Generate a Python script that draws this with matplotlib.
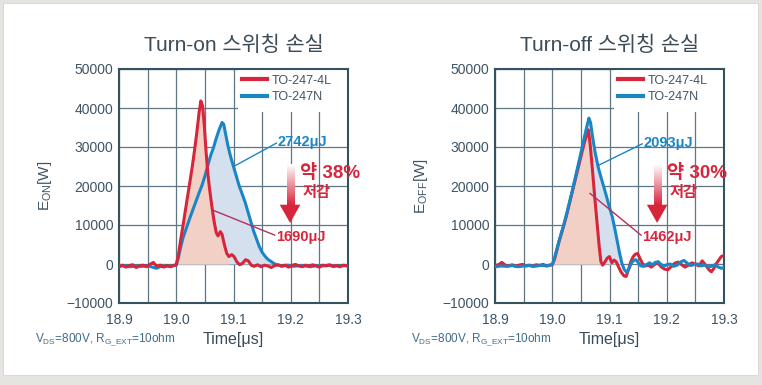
import numpy as np
import matplotlib
import matplotlib.pyplot as plt
from matplotlib.colors import LinearSegmentedColormap
from matplotlib.patches import Rectangle, Polygon

matplotlib.use("Agg")
plt.rcParams["font.family"] = ["Liberation Sans", "Noto Sans CJK KR"]

# ---- data (time in us, power in W) ----
on_4l_t = [18.900, 18.906, 18.912, 18.918, 18.924, 18.930, 18.936, 18.942, 18.948, 18.954,
           18.960, 18.966, 18.972, 18.978, 18.984, 18.990, 18.996, 19.000, 19.004, 19.008,
           19.012, 19.016, 19.020, 19.024, 19.028, 19.032, 19.036, 19.040, 19.043, 19.046,
           19.049, 19.052, 19.055, 19.058, 19.062, 19.066, 19.070, 19.073, 19.077, 19.080,
           19.084, 19.088, 19.092, 19.097, 19.101, 19.106, 19.111, 19.116, 19.121, 19.126,
           19.131, 19.136, 19.142, 19.148, 19.154, 19.160, 19.166, 19.172, 19.178, 19.184,
           19.190, 19.196, 19.202, 19.208, 19.214, 19.220, 19.226, 19.232, 19.238, 19.244,
           19.250, 19.256, 19.262, 19.268, 19.274, 19.280, 19.286, 19.292, 19.300]
on_4l_v = [-700, -300, -800, -400, -200, -900, -500, -300, -700, -100,
           400, -600, -300, -800, -400, -700, -300, -200, 2500, 6500,
           10000, 13800, 17500, 21200, 25000, 29200, 33800, 39000, 41800, 40500,
           35500, 29000, 23500, 19500, 15000, 11000, 8000, 7200, 8300, 7600,
           5000, 2800, 1900, 2400, 1900, 500, -200, 200, 1100, 800,
           -300, -600, -200, -700, -300, -500, -900, -400, -200, -600,
           -300, -800, -400, -100, -500, -700, -300, -600, -200, -500,
           -800, -300, -500, -200, -600, -400, -700, -300, -500]

on_n_t = [18.900, 18.910, 18.920, 18.930, 18.940, 18.950, 18.958, 18.965, 18.972, 18.980,
          18.990, 19.000, 19.004, 19.008, 19.012, 19.016, 19.020, 19.025, 19.030, 19.035,
          19.040, 19.045, 19.050, 19.055, 19.060, 19.065, 19.070, 19.075, 19.080, 19.083,
          19.086, 19.090, 19.095, 19.100, 19.105, 19.110, 19.115, 19.120, 19.125, 19.130,
          19.135, 19.140, 19.145, 19.150, 19.155, 19.160, 19.165, 19.170, 19.175, 19.185,
          19.195, 19.205, 19.215, 19.225, 19.235, 19.245, 19.255, 19.265, 19.275, 19.285,
          19.300]
on_n_v = [-600, -400, -700, -500, -600, -400, -800, -1100, -700, -500,
          -600, -300, 1800, 4500, 6800, 8500, 10200, 12300, 14300, 16300,
          18300, 20200, 22500, 25200, 27800, 29800, 32300, 34500, 36300, 35800,
          33500, 30500, 27500, 25000, 22500, 20000, 18000, 16000, 13500, 11000,
          8500, 6500, 4500, 3000, 2000, 1200, 700, 200, -200, -500,
          -300, -600, -400, -500, -700, -400, -500, -300, -600, -400,
          -500]

off_4l_t = [18.900, 18.906, 18.912, 18.918, 18.924, 18.930, 18.936, 18.942, 18.948, 18.954,
            18.960, 18.966, 18.972, 18.978, 18.984, 18.990, 18.996, 19.000, 19.004, 19.008,
            19.012, 19.016, 19.020, 19.025, 19.030, 19.035, 19.040, 19.045, 19.050, 19.055,
            19.060, 19.063, 19.066, 19.070, 19.074, 19.078, 19.082, 19.085, 19.088, 19.092,
            19.096, 19.100, 19.104, 19.108, 19.112, 19.116, 19.120, 19.125, 19.129, 19.133,
            19.137, 19.141, 19.145, 19.149, 19.153, 19.158, 19.163, 19.168, 19.173, 19.178,
            19.184, 19.190, 19.196, 19.202, 19.208, 19.214, 19.220, 19.226, 19.232, 19.238,
            19.244, 19.250, 19.256, 19.262, 19.268, 19.274, 19.278, 19.282, 19.286, 19.290,
            19.295, 19.300]
off_4l_v = [-400, -200, 400, -300, -500, -200, -600, -300, -100, -500,
            -300, -600, -200, -400, -100, -500, -300, -200, 1200, 3500,
            5800, 7800, 9800, 12500, 15500, 18500, 21500, 24500, 27500, 30500,
            33200, 34400, 31000, 24500, 17500, 11000, 4500, 600, -300, 500,
            1500, 1900, 300, 1000, 500, -800, -2000, -3000, -3200, -1500,
            500, 1800, 2500, 2700, 1500, 0, -500, -300, -800, -200,
            400, -700, -1300, -1500, -600, 200, 500, -200, -800, -300,
            300, 0, -500, 800, -300, -1500, -2000, -1200, 0, 800,
            1900, 2200]

off_n_t = [18.900, 18.910, 18.920, 18.930, 18.940, 18.950, 18.960, 18.970, 18.980, 18.990,
           19.000, 19.004, 19.008, 19.012, 19.016, 19.020, 19.025, 19.030, 19.035, 19.040,
           19.045, 19.050, 19.055, 19.060, 19.064, 19.067, 19.070, 19.075, 19.080, 19.085,
           19.090, 19.095, 19.100, 19.105, 19.110, 19.114, 19.118, 19.122, 19.126, 19.130,
           19.134, 19.138, 19.142, 19.146, 19.150, 19.155, 19.160, 19.165, 19.170, 19.175,
           19.180, 19.185, 19.190, 19.195, 19.200, 19.206, 19.212, 19.218, 19.224, 19.230,
           19.236, 19.242, 19.248, 19.254, 19.260, 19.266, 19.272, 19.278, 19.284, 19.290,
           19.296, 19.300]
off_n_v = [-700, -500, -600, -400, -700, -500, -400, -600, -300, -500,
           -100, 1500, 3800, 6000, 8000, 10000, 12800, 15800, 18800, 22000,
           25200, 28500, 31800, 35000, 37400, 36200, 33000, 28500, 25000, 22300,
           19800, 17200, 14500, 12000, 8500, 5500, 2500, 0, -1500, -2100,
           -1200, 200, 900, 1100, 400, -500, -600, -100, 300, -200,
           400, 600, -100, -500, -200, 0, -600, -300, 500, 900,
           200, -400, -100, 0, -500, -300, -700, -600, -200, -800,
           -1100, -900]

series_labels = ["TO-247-4L", "TO-247N"]
panel_titles = ["Turn-on 스위칭 손실", "Turn-off 스위칭 손실"]
energy_4l = ["1690μJ", "1462μJ"]
energy_n = ["2742μJ", "2093μJ"]
reduction = ["약 38%", "약 30%"]
x_ticks = [18.9, 19.0, 19.1, 19.2, 19.3]
x_minor = [18.95, 19.05, 19.15, 19.25]
y_ticks = [-10000, 0, 10000, 20000, 30000, 40000, 50000]

RED = "#d7263c"
BLUE = "#1b86c6"
RED_FILL = "#f3d0c6"
BLUE_FILL = "#d5e0ee"
FRAME = "#36525f"
GRID = "#5f7684"
TXT = "#3f5464"
LEADER_RED = "#b2305e"

fig = plt.figure(figsize=(7.62, 3.85), dpi=100, facecolor="#e6e4e1")
fig.patches.append(Rectangle((3 / 762, 10 / 385), 755 / 762, 372 / 385,
                             transform=fig.transFigure, facecolor="white",
                             edgecolor="#d8d6d3", linewidth=0.6, zorder=-10))

axes = [fig.add_axes([119 / 762, 82 / 385, 229 / 762, 234 / 385]),
        fig.add_axes([495 / 762, 82 / 385, 229 / 762, 234 / 385])]
for ax in axes:
    ax.set_facecolor("none")

panels = [
    dict(t4=on_4l_t, v4=on_4l_v, tn=on_n_t, vn=on_n_v, red_end=19.095, blue_end=19.175,
         red_top=True, ylab=r"$\mathregular{E_{ON}}$[W]",
         lead_n=((19.099, 24900), (19.175, 31000)), lead_4=((19.064, 13800), (19.172, 7400)),
         arrow_x=0.747),
    dict(t4=off_4l_t, v4=off_4l_v, tn=off_n_t, vn=off_n_v, red_end=19.085, blue_end=19.122,
         red_top=False, ylab=r"$\mathregular{E_{OFF}}$[W]",
         lead_n=((19.082, 25400), (19.157, 30800)), lead_4=((19.066, 18100), (19.155, 7400)),
         arrow_x=0.708),
]

grad_cmap = LinearSegmentedColormap.from_list("g", ["#ffffff", RED])

for i, (ax, p) in enumerate(zip(axes, panels)):
    t4, v4 = np.array(p["t4"]), np.array(p["v4"])
    tn, vn = np.array(p["tn"]), np.array(p["vn"])

    mask_n = (tn >= 19.0) & (tn <= p["blue_end"])
    mask_4 = (t4 >= 19.0) & (t4 <= p["red_end"])
    ax.fill_between(tn, 0, np.clip(vn, 0, None), where=mask_n, color=BLUE_FILL,
                    linewidth=0, zorder=1)
    ax.fill_between(t4, 0, np.clip(v4, 0, None), where=mask_4, color=RED_FILL,
                    linewidth=0, zorder=1.5)

    zr, zb = (4, 3) if p["red_top"] else (3, 4)
    ax.plot(t4, v4, color=RED, lw=2.2, zorder=zr, label=series_labels[0])
    ax.plot(tn, vn, color=BLUE, lw=2.2, zorder=zb, label=series_labels[1])

    ax.set_xticks(x_ticks)
    ax.set_xticks(x_minor, minor=True)
    ax.set_yticks(y_ticks)
    ax.set_xticklabels([f"{x:.1f}" for x in x_ticks])
    ax.grid(True, which="both", color=GRID, lw=0.9, zorder=0.5)
    ax.set_axisbelow(True)
    ax.tick_params(which="both", length=0, labelsize=10, labelcolor=TXT)
    ax.tick_params(axis="x", pad=7)
    ax.tick_params(axis="y", pad=4)
    for s in ax.spines.values():
        s.set_color(FRAME)
        s.set_linewidth(1.5)

    # white patch behind the legend
    ax.add_patch(Rectangle((0.52, 0.816), 0.48, 0.184, transform=ax.transAxes,
                           facecolor="white", edgecolor="none", zorder=2))
    leg = ax.legend(loc="upper left", bbox_to_anchor=(0.535, 0.975), frameon=False,
                    fontsize=9, handlelength=2.0, handletextpad=0.45,
                    labelspacing=0.35, borderaxespad=0, borderpad=0)
    leg.set_zorder(5)
    for h in leg.get_lines():
        h.set_linewidth(3)
    for tx in leg.get_texts():
        tx.set_color(TXT)

    # energy annotations with leader lines
    (x0, y0), (x1, y1) = p["lead_n"]
    ax.plot([x0, x1], [y0, y1], color=BLUE, lw=1.0, zorder=6)
    ax.text(x1 + 0.002, y1 + 300, energy_n[i], color=BLUE, fontsize=10.5,
            fontweight="bold", ha="left", va="center", zorder=7)
    (x0, y0), (x1, y1) = p["lead_4"]
    ax.plot([x0, x1], [y0, y1], color=LEADER_RED, lw=1.0, zorder=6)
    ax.text(x1 + 0.002, y1 - 500, energy_4l[i], color=RED, fontsize=10.5,
            fontweight="bold", ha="left", va="center", zorder=7)

    # gradient arrow + reduction text
    ax_c = p["arrow_x"]
    sw, hw = 0.0155, 0.045
    y_top, y_head, y_tip = 0.595, 0.42, 0.342
    ax.imshow(np.linspace(0, 1, 64).reshape(-1, 1), cmap=grad_cmap, aspect="auto",
              extent=(ax_c - sw, ax_c + sw, y_head, y_top), transform=ax.transAxes,
              origin="upper", zorder=6)
    ax.add_patch(Polygon([(ax_c - hw, y_head), (ax_c + hw, y_head), (ax_c, y_tip)],
                         closed=True, transform=ax.transAxes, facecolor=RED,
                         edgecolor="none", zorder=6))
    ax.text(ax_c + 0.043, 0.556, reduction[i], transform=ax.transAxes, color=RED,
            fontsize=13.5, fontweight="bold", ha="left", va="center", zorder=7)
    ax.text(ax_c + 0.053, 0.468, "저감", transform=ax.transAxes, color=RED,
            fontsize=11, fontweight="bold", ha="left", va="center", zorder=7)

    ax.set_xlim(18.9, 19.3)
    ax.set_ylim(-10000, 50000)

    ax.text(0.5, 1.103, panel_titles[i], transform=ax.transAxes, ha="center",
            va="center", fontsize=15, color="#3b4b57")
    ax.set_ylabel(p["ylab"], fontsize=11, color=TXT)
    ax.yaxis.set_label_coords(-0.284, 0.5)
    ax.set_xlabel("Time[μs]", fontsize=11.5, color="#3b4b57")
    ax.xaxis.set_label_coords(0.5, -0.125)
    ax.text(-0.367, -0.158, r"$\mathregular{V_{DS}}$=800V, $\mathregular{R_{G\_EXT}}$=10ohm",
            transform=ax.transAxes, ha="left", va="center", fontsize=8.5, color="#3f6c8a")

fig.savefig("out.png", dpi=100, facecolor=fig.get_facecolor())
